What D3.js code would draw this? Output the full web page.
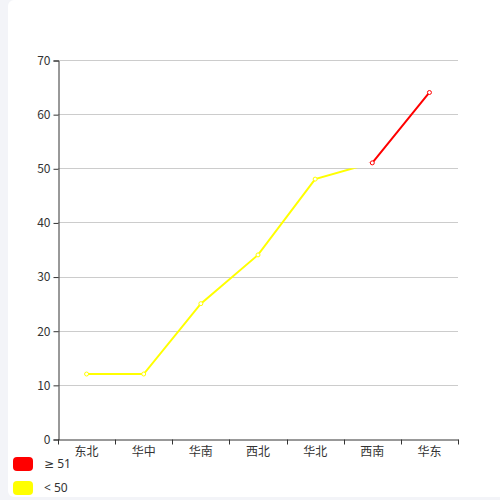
<!DOCTYPE html>
<html>
<head>
<meta charset="utf-8">
<script src="https://cdn.jsdelivr.net/npm/d3@7"></script>
<style>
  body { margin: 0; background: #f3f4f8; }
  #panel { position: absolute; left: 8px; top: 0; width: 500px; height: 497px; background: #fff; border-radius: 6px; }
  svg { position: absolute; left: 0; top: 0; }
</style>
</head>
<body>
<div id="panel"></div>
<script>
var regions = ['东北', '华中', '华南', '西北', '华北', '西南', '华东'];
var counts = [12, 12, 25, 34, 48, 51, 64];
var yTicks = [0, 10, 20, 30, 40, 50, 60, 70];
// visual pieces: value >= 51 red, value < 50 yellow
var pieceLabels = ['≥ 51', '< 50'];
var pieceColors = ['#ff0000', '#ffff00'];
var pieceRanges = [[51, 70], [0, 50]];

var width = 500, height = 500;
var gridLeft = 58, gridRight = 458, gridTop = 60, gridBottom = 439;
var font = '"Noto Sans CJK SC", "Microsoft YaHei", sans-serif';
var legendFont = '"Noto Sans", "DejaVu Sans", sans-serif';

var svg = d3.select("body").append("svg")
    .attr("width", width)
    .attr("height", height);

var x = d3.scaleBand().domain(regions).range([gridLeft, gridRight]);
var y = d3.scaleLinear().domain([0, 70]).range([gridBottom, gridTop]);

// grid lines
svg.append("g")
    .selectAll("line")
    .data(yTicks.slice(1))
    .enter().append("line")
    .attr("x1", gridLeft).attr("x2", gridRight)
    .attr("y1", d => Math.round(y(d)) + 0.5).attr("y2", d => Math.round(y(d)) + 0.5)
    .style("stroke", "#cccccc")
    .style("stroke-width", 1);

// y axis
var yAxis = svg.append("g")
    .attr("transform", "translate(" + (gridLeft + 0.5) + ",0.5)")
    .call(d3.axisLeft(y).tickValues(yTicks).tickSize(5).tickPadding(3));
yAxis.select(".domain").attr("stroke", "#333");
yAxis.selectAll(".tick line").attr("stroke", "#333");
yAxis.selectAll("text").style("fill", "#333").style("font-size", "12px").style("font-family", font);

// x axis
var xAxis = svg.append("g")
    .attr("transform", "translate(0," + (gridBottom + 0.5) + ")")
    .call(d3.axisBottom(x).tickSize(0).tickPadding(8));
xAxis.select(".domain").attr("stroke", "#333");
xAxis.selectAll("text").style("fill", "#333").style("font-size", "12px").style("font-family", font);
xAxis.selectAll(".edge")
    .data(d3.range(regions.length + 1))
    .enter().append("line")
    .attr("x1", d => Math.round(gridLeft + d * x.bandwidth()) + 0.5)
    .attr("x2", d => Math.round(gridLeft + d * x.bandwidth()) + 0.5)
    .attr("y1", 0).attr("y2", 5)
    .attr("stroke", "#333");

var points = regions.map((r, i) => ({ name: r, value: counts[i] }));
var line = d3.line()
    .x(d => x(d.name) + x.bandwidth() / 2)
    .y(d => y(d.value));

// clip the line into the colour pieces
var defs = svg.append("defs");
pieceRanges.forEach(function(rg, i) {
    defs.append("clipPath").attr("id", "piece" + i)
        .append("rect")
        .attr("x", 0).attr("width", width)
        .attr("y", i == 0 ? 0 : y(rg[1]))
        .attr("height", i == 0 ? y(rg[0]) : height - y(rg[1]));
});

pieceRanges.forEach(function(rg, i) {
    svg.append("path")
        .datum(points)
        .attr("d", line)
        .attr("clip-path", "url(#piece" + i + ")")
        .style("fill", "none")
        .style("stroke", pieceColors[i])
        .style("stroke-width", 2);
});

// symbols
svg.append("g")
    .selectAll("circle")
    .data(points)
    .enter().append("circle")
    .attr("cx", d => x(d.name) + x.bandwidth() / 2)
    .attr("cy", d => y(d.value))
    .attr("r", 2)
    .style("fill", "#fff")
    .style("stroke", d => d.value >= 51 ? pieceColors[0] : pieceColors[1])
    .style("stroke-width", 1);

// legend
var legend = svg.append("g")
    .selectAll("g")
    .data(pieceLabels)
    .enter().append("g")
    .attr("transform", (d, i) => "translate(13," + (457 + i * 24) + ")");
legend.append("rect")
    .attr("width", 20).attr("height", 14)
    .attr("rx", 4)
    .style("fill", (d, i) => pieceColors[i]);
legend.append("text")
    .attr("x", 31).attr("y", 7)
    .attr("dy", "0.35em")
    .text(d => d)
    .style("fill", "#333")
    .style("font-size", "12px")
    .style("font-family", legendFont);
</script>
</body>
</html>
